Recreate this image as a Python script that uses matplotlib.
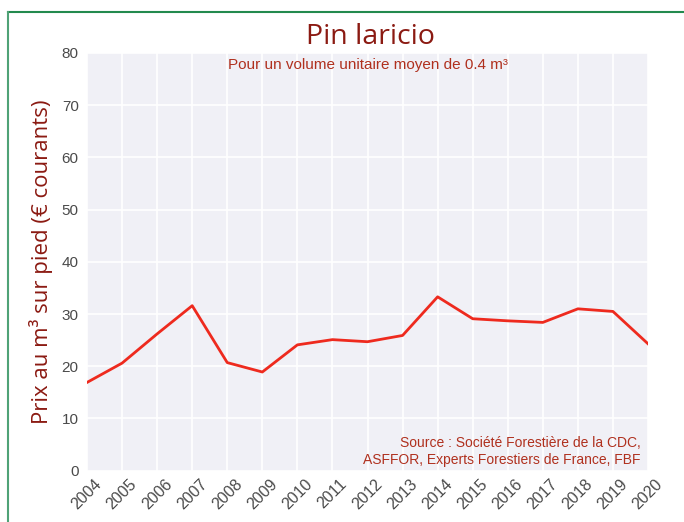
import matplotlib.pyplot as plt
from matplotlib.lines import Line2D

# prix du pin laricio sur pied, euros courants par m3
annees = list(range(2004, 2021))
prix = [16.9, 20.6, 26.2, 31.6, 20.7, 18.9, 24.1, 25.1, 24.7, 25.9,
        33.3, 29.1, 28.7, 28.4, 31.0, 30.5, 24.3]
yticks = [0, 10, 20, 30, 40, 50, 60, 70, 80]

rouge_fonce = '#8B1A12'
rouge_texte = '#B0301E'

plt.rcParams['font.family'] = ['Liberation Sans', 'DejaVu Sans']

fig = plt.figure(figsize=(6.84, 5.22), dpi=100)
ax = fig.add_axes([0.1272, 0.0983, 0.8202, 0.8002])

ax.set_facecolor('#F0F0F6')
ax.grid(True, color='white', linewidth=1.2)
ax.set_axisbelow(True)
for s in ax.spines.values():
    s.set_visible(False)

ax.plot(annees, prix, color='#EE2A1E', linewidth=2)

ax.set_xlim(2004, 2020)
ax.set_ylim(0, 80)
ax.set_xticks(annees)
ax.set_xticklabels([str(a) for a in annees], rotation=45, ha='center')
ax.set_yticks(yticks)
ax.tick_params(axis='both', length=0, labelcolor='#4A4A4A', pad=6)
ax.tick_params(axis='x', labelsize=11.5, pad=4)
ax.tick_params(axis='y', labelsize=11)

ax.set_ylabel('Prix au m³ sur pied (€ courants)', fontsize=16,
              color=rouge_fonce, family=['Open Sans', 'DejaVu Sans'], labelpad=6)

fig.text(0.541, 0.930, 'Pin laricio', ha='center', va='center', fontsize=20.5,
         color=rouge_fonce, family=['Open Sans', 'DejaVu Sans'])
ax.text(0.5, 0.988, 'Pour un volume unitaire moyen de 0.4 m³', transform=ax.transAxes,
        ha='center', va='top', fontsize=11, color=rouge_texte)
ax.text(0.987, 0.01, 'Source : Société Forestière de la CDC,\nASFFOR, Experts Forestiers de France, FBF',
        transform=ax.transAxes, ha='right', va='bottom', fontsize=10,
        color=rouge_texte, linespacing=1.25)

# cadre vert autour du graphique
fig.add_artist(Line2D([7.5 / 684, 1.0], [1 - 12 / 522, 1 - 12 / 522],
                      transform=fig.transFigure, color='#238A4E', linewidth=1.5))
fig.add_artist(Line2D([7.5 / 684, 7.5 / 684], [0.0, 1 - 12 / 522],
                      transform=fig.transFigure, color='#4FA276', linewidth=1.5))

fig.savefig('out.png', dpi=100)
